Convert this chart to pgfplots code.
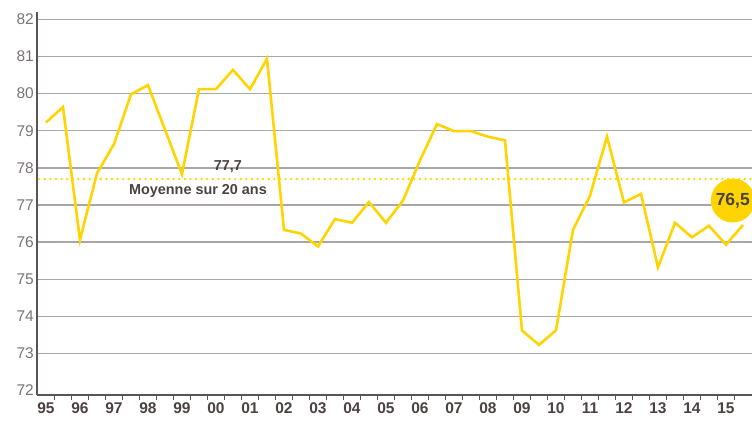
\documentclass[border=0pt]{standalone}
\usepackage{pgfplots}
\pgfplotsset{compat=1.18}
\usepackage{fontspec}
\setmainfont{Liberation Sans}
\definecolor{jaune}{RGB}{255,212,0}
\definecolor{grille}{RGB}{170,166,166}
\definecolor{axe}{RGB}{92,84,84}
\definecolor{txtY}{RGB}{122,116,116}
\definecolor{txtX}{RGB}{75,66,66}

\begin{document}
\begin{tikzpicture}
\begin{axis}[
    scale only axis,
    width=714.7pt, height=383pt,
    xmin=-0.51, xmax=41.53,
    ymin=71.88, ymax=82.2,
    axis lines*=left,
    axis line style={draw=axe, line width=1.6pt, -},
    xtick={0,2,...,40},
    xticklabels={95,96,97,98,99,00,01,02,03,04,05,06,07,08,09,10,11,12,13,14,15},
    minor xtick={0.5,1.5,...,40.5},
    major tick length=0pt,
    minor tick length=5pt,
    tick align=outside,
    minor tick style={draw=axe, line width=1pt},
    xticklabel style={font=\fontsize{15.5}{15.5}\selectfont\bfseries, text=txtX, yshift=-4pt},
    ytick={73,...,82},
    extra y ticks={72},
    extra y tick style={grid=none},
    ymajorgrids,
    grid style={draw=grille, line width=1.3pt},
    yticklabel style={font=\fontsize{15.5}{15.5}\selectfont, text=txtY, xshift=0pt},
    /pgf/number format/assume math mode=true,
    clip=false,
]
  % moyenne sur 20 ans
  \addplot[jaune, line width=2.6pt, line cap=round, dash pattern=on 0pt off 5.6pt]
    coordinates {(-0.4,77.7) (41.5,77.7)};
  % serie semestrielle
  \addplot[jaune, line width=2.6pt] coordinates {
    (0,79.22) (1,79.64) (2,76.06) (3,77.85) (4,78.64) (5,79.98) (6,80.23)
    (7,79.03) (8,77.83) (9,80.12) (10,80.12) (11,80.64) (12,80.12) (13,80.94)
    (14,76.33) (15,76.23) (16,75.88) (17,76.62) (18,76.52) (19,77.08) (20,76.52)
    (21,77.12) (22,78.2) (23,79.18) (24,78.99) (25,78.99) (26,78.84) (27,78.74)
    (28,73.62) (29,73.23) (30,73.62) (31,76.33) (32,77.25) (33,78.84) (34,77.07)
    (35,77.3) (36,75.32) (37,76.52) (38,76.13) (39,76.44) (40,75.93) (41,76.46)
  };
  \node[text=txtX, font=\fontsize{14.4}{14.4}\selectfont\bfseries] at (axis cs:10.7,78.03) {77,7};
  \node[text=txtX, font=\fontsize{14.4}{14.4}\selectfont\bfseries] at (axis cs:8.94,77.38) {Moyenne sur 20 ans};
  \node[circle, fill=jaune, minimum size=44pt, inner sep=0pt, text=txtX,
        font=\fontsize{17.5}{17.5}\selectfont\bfseries] at (axis cs:40.4,77.12) {76,5};
\end{axis}
\pgfresetboundingbox
\path (-37.3pt,-35pt) rectangle (714.7pt,395pt);
\end{tikzpicture}
\end{document}
